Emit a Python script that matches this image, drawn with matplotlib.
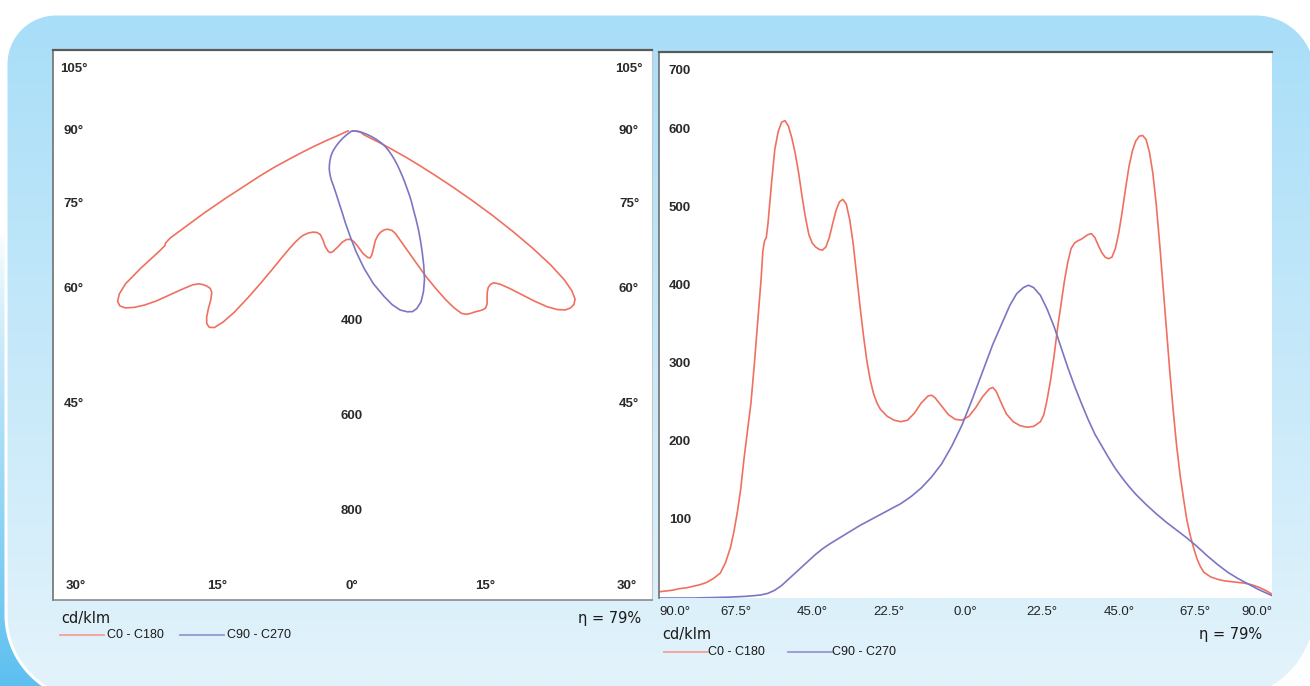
import numpy as np
import matplotlib
matplotlib.use("Agg")
import matplotlib.pyplot as plt
from matplotlib.patches import Polygon
import matplotlib.transforms as mtransforms

# ---------------- data ----------------
# gamma angle in degrees (negative = C180 / C270 side), intensity in cd/klm
red_angles = [-90, -88, -86, -84, -82, -80, -78, -76, -74, -72, -70.5, -69, -68, -67, -66, -65,
              -64, -63, -62, -61, -60, -59.5, -59, -58.5, -58, -57, -56, -55, -54, -53, -52, -51,
              -50, -49, -48, -47, -46, -45, -44, -43, -42, -41, -40, -39, -38, -37, -36, -35,
              -34, -33, -32, -31, -30, -29, -28, -27, -26, -25, -23, -21, -19, -17, -15, -13,
              -11, -10, -9, -7, -5, -3, -1, 1, 3, 5, 7, 8, 9, 10.5, 12, 14, 16, 18, 20, 22,
              23, 24, 25, 26, 27, 28, 29, 30, 31, 32, 33, 34, 35, 36, 37, 38, 39, 40, 41, 42,
              43, 44, 45, 46, 47, 48, 49, 50, 51, 52, 53, 54, 55, 56, 57, 58, 59, 60, 61, 62,
              63, 64, 65, 66, 67, 68, 69, 70, 72, 74, 76, 78, 80, 82, 84, 86, 88, 90]
red_values = [8, 9, 10, 12, 13, 15, 17, 20, 25, 32, 45, 65, 85, 110, 140, 180,
              215, 250, 300, 355, 410, 445, 458, 462, 480, 530, 575, 598, 610, 612, 605, 590,
              570, 545, 515, 488, 466, 455, 450, 447, 446, 450, 462, 480, 497, 508, 511, 505,
              485, 455, 415, 375, 338, 305, 280, 262, 250, 242, 233, 228, 226, 228, 237, 250,
              259, 260, 257, 246, 235, 229, 228, 233, 244, 258, 268, 270, 265, 250, 236, 226, 221, 219, 220, 226,
              235, 255, 280, 310, 345, 375, 405, 430, 448, 455, 458, 460, 463, 466, 467, 462, 452, 443, 437, 435,
              437, 448, 468, 495, 525, 553, 573, 586, 592, 593, 588, 572, 545, 505, 455, 400, 345, 290, 240, 195,
              158, 128, 100, 80, 64, 50, 40, 33, 27, 24, 22, 21, 20, 19, 17, 14, 10, 5]

blue_angles = [-90, -80, -70, -65, -62, -60, -58, -56, -54, -52, -50, -48, -46, -44, -42, -40,
               -37, -34, -31, -28, -25, -22, -19, -16, -13, -10, -7, -4, -1, 2, 5, 8, 11, 13,
               15, 17, 18.5, 20, 22, 24, 26, 28, 30, 32, 34, 36, 38, 40, 42, 44, 46, 48, 50,
               53, 56, 59, 62, 65, 68, 71, 74, 77, 80, 83, 86, 88, 90]
blue_values = [0, 0, 1, 2, 3, 4, 6, 10, 16, 24, 32, 40, 48, 56, 63, 69,
               77, 85, 93, 100, 107, 114, 121, 130, 141, 155, 172, 195, 222, 255, 290, 325, 355, 375,
               390, 398, 401, 398, 388, 370, 348, 322, 296, 272, 250, 229, 210, 195, 180, 166, 154, 143, 133,
               120, 108, 97, 87, 77, 66, 54, 43, 33, 25, 18, 11, 7, 3]

series_names = ["C0 - C180", "C90 - C270"]
series_colors = ["#f0705f", "#7b76c4"]
legend_colors = ["#f3a197", "#9a97d0"]

x_tick_values = [-90, -67.5, -45, -22.5, 0, 22.5, 45, 67.5, 90]
x_tick_labels = ["90.0°", "67.5°", "45.0°", "22.5°", "0.0°", "22.5°", "45.0°", "67.5°", "90.0°"]
y_tick_values = [100, 200, 300, 400, 500, 600, 700]

polar_side_labels = ["105°", "90°", "75°", "60°", "45°"]
polar_bottom_labels = ["30°", "15°", "0°", "15°", "30°"]
polar_radii = [400, 600, 800]

unit_label = "cd/klm"
eta_label = "η = 79%"

# ---------------- figure ----------------
W, H = 1310, 686
fig = plt.figure(figsize=(W / 100, H / 100), dpi=100)
fig.patch.set_facecolor("white")
bg = fig.add_axes([0, 0, 1, 1])
bg.set_xlim(0, W)
bg.set_ylim(H, 0)
bg.axis("off")
bg.set_zorder(0)


def rounded_poly(x0, y0, x1, y1, r_tl, r_tr, r_br, r_bl, n=30):
    pts = []
    for cx, cy, r, a0, a1 in [(x0 + r_tl, y0 + r_tl, r_tl, 180, 270),
                              (x1 - r_tr, y0 + r_tr, r_tr, 270, 360),
                              (x1 - r_br, y1 - r_br, r_br, 0, 90),
                              (x0 + r_bl, y1 - r_bl, r_bl, 90, 180)]:
        t = np.radians(np.linspace(a0, a1, n))
        pts += list(zip(cx + r * np.cos(t), cy + r * np.sin(t)))
    return np.array(pts)


# decorative saturated strip on the lower left, outside the card
strip = Polygon([(0, 230), (90, 230), (90, H), (0, H)], closed=True, facecolor="none", edgecolor="none")
bg.add_patch(strip)
ramp = np.linspace(0, 1, 256)[:, None]
strip_rgba = np.zeros((256, 1, 4))
strip_rgba[..., 0] = 0.33
strip_rgba[..., 1] = 0.74
strip_rgba[..., 2] = 0.94
strip_rgba[..., 3] = np.clip(ramp ** 0.8, 0, 1) * 0.95
im0 = bg.imshow(strip_rgba, extent=[0, 90, H, 230], aspect="auto", zorder=0.5)
im0.set_clip_path(strip)

# card with vertical gradient
card_pts = rounded_poly(6, 14, 1316, 700, 50, 60, 90, 85)
card = Polygon(card_pts, closed=True, facecolor="none", edgecolor="white", lw=2.2, zorder=2)
bg.add_patch(card)
top_c = np.array([168, 222, 248]) / 255
bot_c = np.array([227, 243, 251]) / 255
g = np.linspace(0, 1, 256)[:, None, None]
grad = top_c[None, None, :] * (1 - g) + bot_c[None, None, :] * g
im1 = bg.imshow(grad, extent=[0, W, H, 14], aspect="auto", zorder=1)
im1.set_clip_path(card)


def px_axes(x0, y0, x1, y1):
    return fig.add_axes([x0 / W, 1 - y1 / H, (x1 - x0) / W, (y1 - y0) / H])


# ---------------- left polar panel ----------------
LX0, LY0, LX1, LY1 = 53, 50, 652, 600
cx_px, cy_px, scale = 352, 131, 0.475  # centre pixel and px per cd/klm
axL = px_axes(LX0, LY0, LX1, LY1)
axL.set_facecolor("white")
axL.set_xlim((LX0 - cx_px) / scale, (LX1 - cx_px) / scale)
axL.set_ylim(-(LY1 - cy_px) / scale, (cy_px - LY0) / scale)
axL.set_xticks([])
axL.set_yticks([])
axL.spines["top"].set_color("#5a5a5a")
axL.spines["top"].set_linewidth(1.6)
axL.spines["left"].set_color("#707070")
axL.spines["left"].set_linewidth(1.2)
axL.spines["right"].set_color("#c8c8c8")
axL.spines["bottom"].set_color("#8a8a8a")
axL.spines["bottom"].set_linewidth(1.2)
axL.set_zorder(3)

for ang, val, col in [(red_angles, red_values, series_colors[0]),
                      (blue_angles, blue_values, series_colors[1])]:
    a = np.radians(np.array(ang))
    v = np.array(val, dtype=float)
    axL.plot(v * np.sin(a), -v * np.cos(a), color=col, lw=1.2, zorder=4)

lab_kw = dict(fontsize=9.5, color="#2a2a2a", family="Liberation Sans", fontweight="bold",
              ha="center", va="center", zorder=6)
for r in polar_radii:
    axL.text(0, -r, str(r), **lab_kw)

# ---------------- right cartesian panel ----------------
RX0, RY0, RX1, RY1 = 659, 52, 1272, 598
axR = px_axes(RX0, RY0, RX1, RY1)
axR.set_facecolor("white")
axR.set_xlim(-90, 90)
axR.set_ylim(0, 700)
axR.plot(red_angles, red_values, color=series_colors[0], lw=1.2)
axR.plot(blue_angles, blue_values, color=series_colors[1], lw=1.2)
axR.spines["top"].set_color("#5a5a5a")
axR.spines["top"].set_linewidth(1.6)
axR.spines["left"].set_color("#707070")
axR.spines["left"].set_linewidth(1.2)
axR.spines["right"].set_visible(False)
axR.spines["bottom"].set_visible(False)
axR.set_zorder(3)
axR.set_yticks([])
axR.set_xticks(x_tick_values)
axR.set_xticklabels(x_tick_labels, fontsize=9.5, color="#222222", family="Liberation Sans")
axR.tick_params(axis="x", length=0, pad=6)
tl = axR.get_xticklabels()
tl[0].set_ha("left")
tl[-1].set_ha("right")
ytrans = mtransforms.blended_transform_factory(axR.transAxes, axR.transData)
for v in y_tick_values:
    if v == y_tick_values[-1]:
        axR.annotate(str(v), xy=(0.034, v), xycoords=ytrans, xytext=(0, -19),
                     textcoords="offset pixels", **lab_kw)
    else:
        axR.text(0.034, v, str(v), transform=ytrans, **lab_kw)

# ---------------- overlay for labels / legends ----------------
ov = fig.add_axes([0, 0, 1, 1])
ov.set_xlim(0, W)
ov.set_ylim(H, 0)
ov.axis("off")
ov.patch.set_alpha(0)
ov.set_zorder(10)

side_y = [69, 131, 204, 289, 404]
for lab, y in zip(polar_side_labels, side_y):
    ov.text(74, y, lab, **lab_kw)
    ov.text(629, y, lab, **lab_kw)
bottom_x = [76, 217, 352, 485, 627]
for lab, x in zip(polar_bottom_labels, bottom_x):
    ov.text(x, 586, lab, **lab_kw)

txt_kw = dict(fontsize=10.5, color="#1a1a1a", family="DejaVu Sans", va="center", zorder=6)
leg_kw = dict(fontsize=9, color="#1a1a1a", family="Liberation Sans", va="center", ha="left", zorder=6)


def legend_block(x_unit, y_unit, x_eta, y_leg, x_l1, x_t1, x_l2, x_t2):
    ov.text(x_unit, y_unit, unit_label, ha="left", **txt_kw)
    ov.text(x_eta, y_unit, eta_label, ha="right", **txt_kw)
    ov.plot([x_l1, x_l1 + 44], [y_leg, y_leg], color=legend_colors[0], lw=1.3, zorder=6)
    ov.text(x_t1, y_leg, series_names[0], **leg_kw)
    ov.plot([x_l2, x_l2 + 44], [y_leg, y_leg], color=legend_colors[1], lw=1.3, zorder=6)
    ov.text(x_t2, y_leg, series_names[1], **leg_kw)


legend_block(61, 619, 641, 635, 60, 107, 180, 227)
legend_block(662, 634, 1262, 652, 664, 708, 788, 832)

fig.savefig("out.png", dpi=100)
